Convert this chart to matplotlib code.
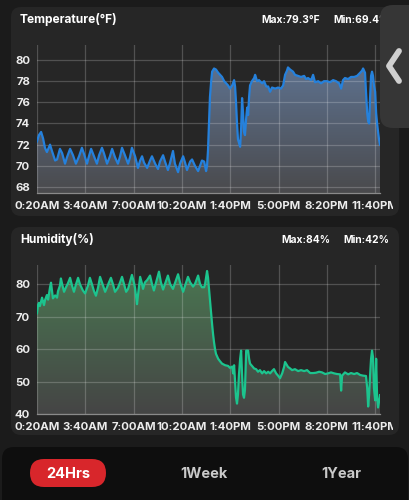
import numpy as np
import matplotlib
matplotlib.use("Agg")
import matplotlib.pyplot as plt
from matplotlib.patches import FancyBboxPatch
from matplotlib.transforms import Bbox, TransformedBbox, blended_transform_factory

plt.rcParams['font.family'] = ['Inter', 'DejaVu Sans']

# ---------------- data ----------------
x_ticks = [20, 220, 420, 620, 820, 1020, 1220, 1420]   # minutes after midnight
x_labels = ["0:20AM", "3:40AM", "7:00AM", "10:20AM", "1:40PM", "5:00PM", "8:20PM", "11:40PM"]

temp_ticks = [68, 70, 72, 74, 76, 78, 80]
hum_ticks = [40, 50, 60, 70, 80]

temp_t = [20, 28, 37, 45, 53, 61, 70, 74, 82, 95,
          103, 115, 124, 136, 144, 157, 169, 181, 194, 206,
          215, 227, 235, 244, 256, 268, 277, 289, 297, 310,
          322, 331, 343, 355, 364, 372, 384, 397, 405, 413,
          426, 438, 447, 455, 463, 476, 488, 496, 509, 521,
          529, 542, 550, 562, 571, 583, 591, 604, 612, 625,
          633, 641, 654, 662, 674, 687, 695, 703, 712, 720,
          724, 728, 732, 736, 741, 745, 753, 761, 770, 778,
          786, 795, 803, 811, 819, 828, 836, 840, 844, 848,
          852, 861, 865, 869, 873, 877, 881, 886, 890, 894,
          898, 902, 910, 919, 923, 931, 939, 952, 960, 969,
          977, 985, 993, 1006, 1018, 1030, 1039, 1047, 1055, 1059,
          1068, 1080, 1088, 1101, 1113, 1126, 1134, 1142, 1155, 1163,
          1171, 1184, 1196, 1208, 1221, 1233, 1246, 1258, 1271, 1279,
          1287, 1295, 1308, 1320, 1333, 1345, 1358, 1366, 1370, 1378,
          1382, 1387, 1391, 1395, 1399, 1403, 1407, 1411, 1415, 1420,
          1424, 1428, 1432, 1436, 1440]
temp_v = [72.3, 72.9, 73.2, 72.6, 71.7, 71.3, 71.8, 72.0, 71.4, 70.5,
          70.6, 71.6, 71.2, 70.2, 70.8, 71.6, 71.0, 70.2, 70.9, 71.7,
          71.1, 70.2, 70.9, 71.6, 70.9, 70.2, 71.0, 71.7, 71.2, 70.2,
          70.9, 71.6, 70.8, 70.2, 70.9, 71.7, 71.0, 70.2, 70.8, 71.7,
          70.9, 69.8, 70.5, 70.9, 70.3, 69.8, 70.5, 70.9, 70.2, 69.7,
          70.4, 71.0, 70.4, 69.6, 70.3, 71.4, 70.2, 69.4, 70.2, 70.9,
          70.3, 69.6, 70.4, 70.6, 70.0, 69.5, 70.0, 70.5, 70.4, 69.5,
          70.0, 71.5, 74.0, 76.5, 78.0, 78.9, 79.2, 79.1, 78.8, 78.6,
          78.4, 78.0, 77.8, 77.6, 77.3, 77.6, 78.1, 77.5, 76.0, 74.0,
          72.5, 71.8, 73.5, 76.4, 75.0, 73.2, 72.9, 74.5, 75.5, 74.8,
          76.5, 77.6, 78.0, 78.3, 78.6, 78.0, 78.1, 77.8, 78.0, 77.5,
          77.5, 77.0, 77.4, 77.3, 77.4, 77.3, 77.6, 78.6, 79.0, 79.3,
          79.1, 78.9, 78.6, 78.5, 78.4, 78.5, 78.2, 78.3, 78.1, 78.6,
          77.9, 78.0, 77.8, 78.0, 78.0, 77.9, 78.1, 78.0, 77.8, 77.3,
          78.1, 78.3, 78.2, 78.4, 78.4, 78.5, 78.8, 79.0, 79.2, 78.8,
          77.0, 75.0, 74.2, 74.0, 76.5, 78.5, 78.9, 78.5, 77.6, 77.0,
          75.0, 74.0, 73.2, 72.5, 72.0]

hum_t = [20, 24, 28, 32, 41, 45, 49, 53, 61, 66,
         74, 78, 82, 86, 95, 103, 107, 115, 119, 124,
         132, 140, 148, 157, 165, 173, 181, 190, 198, 210,
         219, 231, 239, 248, 256, 264, 273, 281, 289, 302,
         310, 318, 326, 335, 343, 355, 364, 372, 380, 389,
         397, 405, 413, 422, 426, 434, 438, 447, 455, 459,
         467, 476, 488, 496, 504, 513, 525, 533, 542, 550,
         562, 571, 583, 591, 604, 612, 625, 633, 645, 654,
         666, 674, 687, 695, 703, 712, 716, 724, 728, 732,
         736, 741, 745, 749, 753, 757, 761, 770, 778, 786,
         799, 811, 819, 828, 832, 836, 840, 844, 848, 852,
         856, 861, 865, 869, 873, 877, 881, 886, 890, 894,
         898, 902, 910, 919, 927, 935, 943, 952, 960, 969,
         977, 985, 993, 1001, 1010, 1018, 1026, 1035, 1043, 1047,
         1051, 1059, 1068, 1076, 1088, 1101, 1113, 1126, 1138, 1151,
         1163, 1175, 1188, 1200, 1213, 1225, 1237, 1250, 1262, 1275,
         1279, 1283, 1295, 1308, 1320, 1333, 1345, 1358, 1370, 1382,
         1387, 1391, 1395, 1399, 1403, 1407, 1411, 1415, 1420, 1424,
         1428, 1432, 1436, 1440]
hum_v = [71.0, 73.5, 74.2, 73.2, 75.8, 74.5, 73.5, 75.0, 76.6, 75.2,
         79.0, 80.4, 78.0, 75.6, 76.5, 75.8, 77.8, 79.5, 81.7, 80.0,
         77.6, 79.0, 80.2, 81.9, 79.5, 77.6, 79.8, 81.9, 79.9, 78.0,
         77.1, 79.5, 81.9, 79.8, 77.8, 76.4, 79.0, 82.2, 80.5, 77.6,
         79.0, 80.5, 81.9, 79.8, 77.6, 78.8, 80.5, 82.2, 80.0, 77.6,
         78.5, 80.6, 82.8, 80.2, 78.7, 73.8, 76.5, 82.2, 80.0, 78.5,
         80.5, 81.2, 82.6, 80.0, 78.0, 80.5, 83.8, 80.5, 78.3, 80.0,
         82.6, 80.0, 78.5, 80.2, 83.0, 80.5, 77.6, 79.5, 82.2, 80.5,
         79.2, 80.0, 82.6, 80.0, 79.0, 79.0, 80.0, 84.0, 82.0, 78.5,
         75.0, 71.0, 67.5, 64.5, 62.0, 60.0, 58.5, 57.0, 56.2, 55.5,
         55.0, 54.8, 54.2, 54.6, 52.5, 55.0, 50.0, 45.0, 43.2, 46.0,
         52.0, 57.0, 59.5, 52.0, 46.0, 45.0, 47.5, 59.5, 59.5, 59.5,
         57.0, 55.5, 54.8, 54.0, 53.8, 53.0, 53.5, 52.5, 53.2, 52.5,
         53.0, 52.5, 53.2, 53.8, 52.5, 51.8, 51.0, 52.5, 54.5, 56.0,
         55.5, 54.5, 54.0, 53.5, 53.8, 53.2, 53.5, 53.2, 53.5, 52.6,
         52.6, 52.7, 53.0, 52.8, 52.3, 52.5, 52.8, 52.5, 52.3, 52.2,
         47.2, 51.8, 52.8, 52.2, 52.6, 52.3, 52.6, 52.0, 51.8, 51.7,
         48.0, 42.3, 46.0, 52.0, 57.0, 59.5, 57.5, 48.0, 44.2, 57.0,
         45.0, 42.0, 44.0, 45.8]

temp_title = "Temperature(°F)"
temp_max_txt = "Max:79.3°F"
temp_min_txt = "Min:69.4°F"
hum_title = "Humidity(%)"
hum_max_txt = "Max:84%"
hum_min_txt = "Min:42%"
tabs = ["24Hrs", "1Week", "1Year"]

# ---------------- figure ----------------
W, H = 410, 500
fig = plt.figure(figsize=(W / 100, H / 100), dpi=100)
fig.patch.set_facecolor('#1b1b1b')

bg = fig.add_axes([0, 0, 1, 1], zorder=0)
bg.set_xlim(0, W)
bg.set_ylim(H, 0)
bg.axis('off')


def rbox(ax, x0, y0, x1, y1, r, color, z=1):
    p = FancyBboxPatch((x0, y0), x1 - x0, y1 - y0,
                       boxstyle=f"round,pad=0,rounding_size={r}",
                       facecolor=color, edgecolor='none', zorder=z)
    ax.add_patch(p)
    return p


rbox(bg, 11, 7, 399, 216, 10, '#262626')
rbox(bg, 11, 227, 399, 435, 10, '#262626')
rbox(bg, 2, 447, 408, 520, 12, '#0e0e0e')

txt_kw = dict(color='white', fontweight='bold', va='center')
bg.text(20, 20, temp_title, fontsize=8.6, ha='left', **txt_kw)
bg.text(261, 20, temp_max_txt, fontsize=7.4, ha='left', **txt_kw)
bg.text(333, 20, temp_min_txt, fontsize=7.4, ha='left', **txt_kw)
bg.text(20, 240, hum_title, fontsize=8.6, ha='left', **txt_kw)
bg.text(281, 240, hum_max_txt, fontsize=7.4, ha='left', **txt_kw)
bg.text(343, 240, hum_min_txt, fontsize=7.4, ha='left', **txt_kw)

# bottom selector
rbox(bg, 30, 459, 106, 487, 14, '#d8262b', z=2)
tab_x = [68, 204, 341]
for i, (lab, tx) in enumerate(zip(tabs, tab_x)):
    bg.text(tx, 474, lab, fontsize=10.5, ha='center', va='center',
            fontweight='bold', color='white' if i == 0 else '#c9c9c9', zorder=3)

clipbox = TransformedBbox(Bbox([[0, 0], [393 / W, 1]]), fig.transFigure)


def grad_fill(ax, x, y, ymin, ymax, c_top, c_bot):
    x = np.asarray(x, float)
    y = np.asarray(y, float)
    poly = ax.fill_between(x, y, ymin, facecolor='none', edgecolor='none')
    path = poly.get_paths()[0]
    n = 256
    g = np.linspace(0, 1, n)
    img = np.zeros((n, 1, 4))
    for i in range(3):
        img[:, 0, i] = c_bot[i] + (c_top[i] - c_bot[i]) * g
    img[:, 0, 3] = 1
    im = ax.imshow(img, extent=[x.min(), x.max(), ymin, ymax], origin='lower',
                   aspect='auto', zorder=1, interpolation='bilinear')
    im.set_clip_path(path, transform=ax.transData)


def make_chart(rect, t, v, yticks, ylim, line_color, c_top, c_bot):
    ax = fig.add_axes(rect, zorder=2)
    ax.patch.set_alpha(0)
    ax.set_xlim(20, 1440)
    ax.set_ylim(*ylim)
    grad_fill(ax, t, v, ylim[0], ylim[1], c_top, c_bot)
    ax.set_xlim(20, 1440)
    ax.set_ylim(*ylim)
    for yt in yticks:
        ax.axhline(yt, color=(1, 1, 1, 0.2), lw=0.9, zorder=2)
    for xt in x_ticks:
        ax.axvline(xt, color=(1, 1, 1, 0.2), lw=0.9, zorder=2)
    ax.plot(t, v, color=line_color, lw=1.6, zorder=3, solid_joinstyle='round')
    for s in ['top', 'right', 'left']:
        ax.spines[s].set_visible(False)
    ax.spines['bottom'].set_color('#8a8a8a')
    ax.spines['bottom'].set_linewidth(0.9)
    ax.set_xticks([])
    ax.set_yticks(yticks)
    ax.set_yticklabels([str(y) for y in yticks])
    ax.tick_params(axis='y', length=0, pad=5, labelsize=8.2, labelcolor='#ececec')
    for lb in ax.get_yticklabels():
        lb.set_fontweight('bold')
    tr = blended_transform_factory(ax.transData, ax.transAxes)
    for xt, lab in zip(x_ticks, x_labels):
        tx = ax.text(xt, -0.085, lab, transform=tr, ha='center', va='center',
                     fontsize=8.2, fontweight='bold', color='#ececec', clip_on=True)
        tx.set_clip_box(clipbox)
    return ax


ax1 = make_chart([37 / W, 1 - 193 / H, 343 / W, 148 / H], temp_t, temp_v,
                 temp_ticks, (67.43, 81.42), '#2581dc',
                 (0.38, 0.47, 0.60), (0.29, 0.29, 0.30))
ax2 = make_chart([37 / W, 1 - 414 / H, 343 / W, 149 / H], hum_t, hum_v,
                 hum_ticks, (40, 85.85), '#1cc48e',
                 (0.29, 0.47, 0.32), (0.27, 0.27, 0.27))

# overlay tab
ov = fig.add_axes([0, 0, 1, 1], zorder=10)
ov.set_xlim(0, W)
ov.set_ylim(H, 0)
ov.axis('off')
ov.patch.set_alpha(0)
rbox(ov, 380, 5, 425, 128, 13, '#363636', z=5)
ov.plot([399, 389, 399], [51, 66, 81], color='#cfcfcf', lw=4.2,
        solid_capstyle='round', solid_joinstyle='round', zorder=6)

fig.savefig('out.png', dpi=100, facecolor=fig.get_facecolor())
